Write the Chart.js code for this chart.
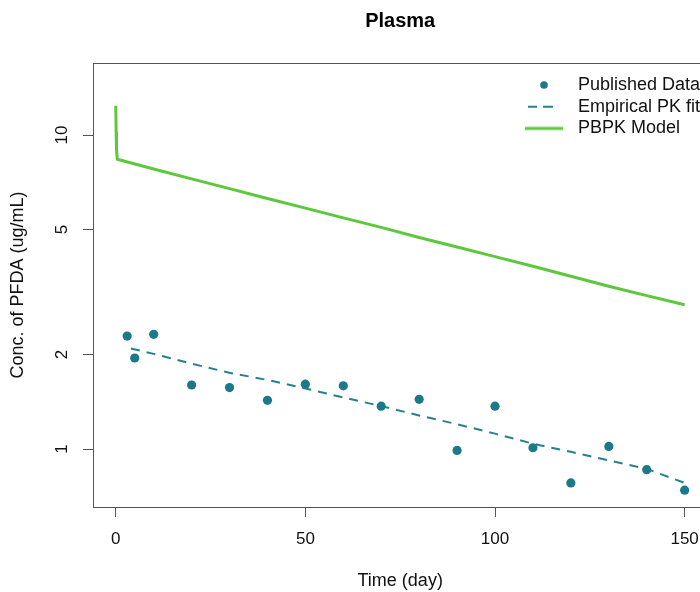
<!DOCTYPE html>
<html><head><meta charset="utf-8">
<script src="https://cdn.jsdelivr.net/npm/chart.js@4/dist/chart.umd.min.js"></script>
<style>html,body{margin:0;padding:0;overflow:hidden;background:#fff}canvas{display:block}</style>
</head><body>
<canvas id="c" width="712" height="592"></canvas>
<script>
// ---- data ----
const pubTime = [3, 5, 10, 20, 30, 40, 50, 60, 70, 80, 90, 100, 110, 120, 130, 140, 150];
const pubConc = [2.29, 1.95, 2.32, 1.60, 1.57, 1.43, 1.61, 1.59, 1.37, 1.44, 0.99, 1.37, 1.01, 0.78, 1.02, 0.86, 0.74];

const fitTime = [4, 10, 20, 30, 40, 50, 60, 70, 80, 90, 100, 110, 120, 130, 140, 150];
const fitConc = [2.09, 2.01, 1.87, 1.75, 1.66, 1.56, 1.46, 1.37, 1.28, 1.20, 1.12, 1.04, 0.98, 0.92, 0.865, 0.78];

const pbpkTime = [0, 0.1, 0.2, 0.4, 10, 20, 30, 40, 50, 60, 70, 80, 90, 100, 110, 120, 130, 140, 150];
const pbpkConc = [12.4, 10.2, 9.0, 8.37, 7.8, 7.25, 6.75, 6.28, 5.85, 5.45, 5.08, 4.72, 4.40, 4.10, 3.82, 3.55, 3.30, 3.08, 2.88];

const xTicks = [0, 50, 100, 150];
const yTicks = [1, 2, 5, 10];
const seriesNames = ['Published Data', 'Empirical PK fit', 'PBPK Model'];
const chartTitle = 'Plasma';
const xTitle = 'Time (day)';
const yTitle = 'Conc. of PFDA (ug/mL)';

// ---- styles ----
const TEAL = '#1c798b', DASHC = '#27808e', GREEN = '#5cc83c', FRAME = '#555555', TXT = '#111111';
const FONT = '"Liberation Sans", Arial, Helvetica, sans-serif';

function xy(xs, ys) { return xs.map((x, i) => ({ x: x, y: ys[i] })); }

function glyph(kind) {
  const c = document.createElement('canvas');
  c.width = 38; c.height = 10;
  const g = c.getContext('2d');
  if (kind === 'dot') {
    g.fillStyle = TEAL; g.beginPath(); g.arc(19, 5, 3.8, 0, Math.PI * 2); g.fill();
  } else if (kind === 'dash') {
    g.strokeStyle = DASHC; g.lineWidth = 2;
    g.beginPath(); g.moveTo(3, 5); g.lineTo(12, 5); g.moveTo(18, 5); g.lineTo(28, 5); g.stroke();
  } else {
    g.strokeStyle = GREEN; g.lineWidth = 3;
    g.beginPath(); g.moveTo(0, 5); g.lineTo(38, 5); g.stroke();
  }
  return c;
}
const glyphs = [glyph('dot'), glyph('dash'), glyph('line')];

const framePlugin = {
  id: 'frame',
  beforeDatasetsDraw(chart) {
    const a = chart.chartArea, ctx = chart.ctx;
    ctx.save();
    ctx.strokeStyle = FRAME; ctx.lineWidth = 1;
    ctx.strokeRect(Math.round(a.left) + 0.5, Math.round(a.top) + 0.5, Math.round(a.right - a.left), Math.round(a.bottom - a.top));
    ctx.restore();
  }
};

const legendPlace = {
  id: 'legendPlace',
  afterLayout(chart) {
    const lg = chart.legend;
    if (!lg) return;
    lg.left = 515.3; lg.right = 700;
    lg.top = 72.3; lg.bottom = 260;
    lg.width = lg.right - lg.left; lg.height = lg.bottom - lg.top;
  }
};

function noPad(s) { s.paddingLeft = 0; s.paddingRight = 0; s.paddingTop = 0; s.paddingBottom = 0; }

new Chart(document.getElementById('c'), {
  type: 'scatter',
  data: {
    datasets: [
      { label: seriesNames[0], data: xy(pubTime, pubConc), showLine: false,
        pointRadius: 4.6, pointBorderWidth: 0, backgroundColor: TEAL, borderColor: TEAL },
      { label: seriesNames[1], data: xy(fitTime, fitConc), showLine: true,
        borderColor: DASHC, borderWidth: 2, borderDash: [9, 7], pointRadius: 0, tension: 0 },
      { label: seriesNames[2], data: xy(pbpkTime, pbpkConc), showLine: true,
        borderColor: GREEN, borderWidth: 3, pointRadius: 0, tension: 0, borderJoinStyle: 'round' }
    ]
  },
  options: {
    responsive: false, animation: false, devicePixelRatio: 1, events: [],
    layout: { padding: 0 },
    plugins: {
      tooltip: { enabled: false },
      title: { display: true, text: chartTitle, fullSize: false, color: '#000',
        font: { family: FONT, size: 20, weight: 'bold' }, padding: { top: 9, bottom: 30 } },
      legend: {
        display: true, position: 'chartArea', align: 'start', fullSize: false,
        labels: {
          usePointStyle: true, pointStyleWidth: 50, boxHeight: 8, padding: 3.7,
          color: TXT, font: { family: FONT, size: 18 },
          generateLabels: () => seriesNames.map((n, i) => ({
            text: n, pointStyle: glyphs[i], fillStyle: 'rgba(0,0,0,0)', strokeStyle: 'rgba(0,0,0,0)',
            lineWidth: 0, datasetIndex: i, fontColor: TXT, hidden: false
          }))
        }
      }
    },
    scales: {
      x: {
        type: 'linear', min: -6, max: 156,
        afterBuildTicks: s => { s.ticks = xTicks.map(v => ({ value: v })); },
        afterFit: s => { s.height = 85; noPad(s); },
        grid: { drawOnChartArea: false, drawTicks: true, tickLength: 10, color: FRAME, lineWidth: 1 },
        border: { display: false },
        ticks: { font: { family: FONT, size: 17 }, color: TXT, padding: 12.3, maxRotation: 0, minRotation: 0,
          autoSkip: false, callback: v => String(v) },
        title: { display: true, text: xTitle, color: TXT, font: { family: FONT, size: 18 }, padding: { top: 0, bottom: 0 } }
      },
      y: {
        type: 'logarithmic', min: 0.654, max: 16.96,
        afterBuildTicks: s => { s.ticks = yTicks.map(v => ({ value: v })); },
        afterFit: s => { s.width = 93; noPad(s); },
        grid: { drawOnChartArea: false, drawTicks: true, tickLength: 10, color: FRAME, lineWidth: 1 },
        border: { display: false },
        ticks: { font: { family: FONT, size: 17 }, color: TXT, padding: 11.5, minRotation: 90, maxRotation: 90,
          crossAlign: 'center', autoSkip: false, callback: v => String(v) },
        title: { display: true, text: yTitle, color: TXT, font: { family: FONT, size: 18 }, padding: { top: 7.2, bottom: 0 } }
      }
    }
  },
  plugins: [framePlugin, legendPlace]
});
</script>
</body></html>
